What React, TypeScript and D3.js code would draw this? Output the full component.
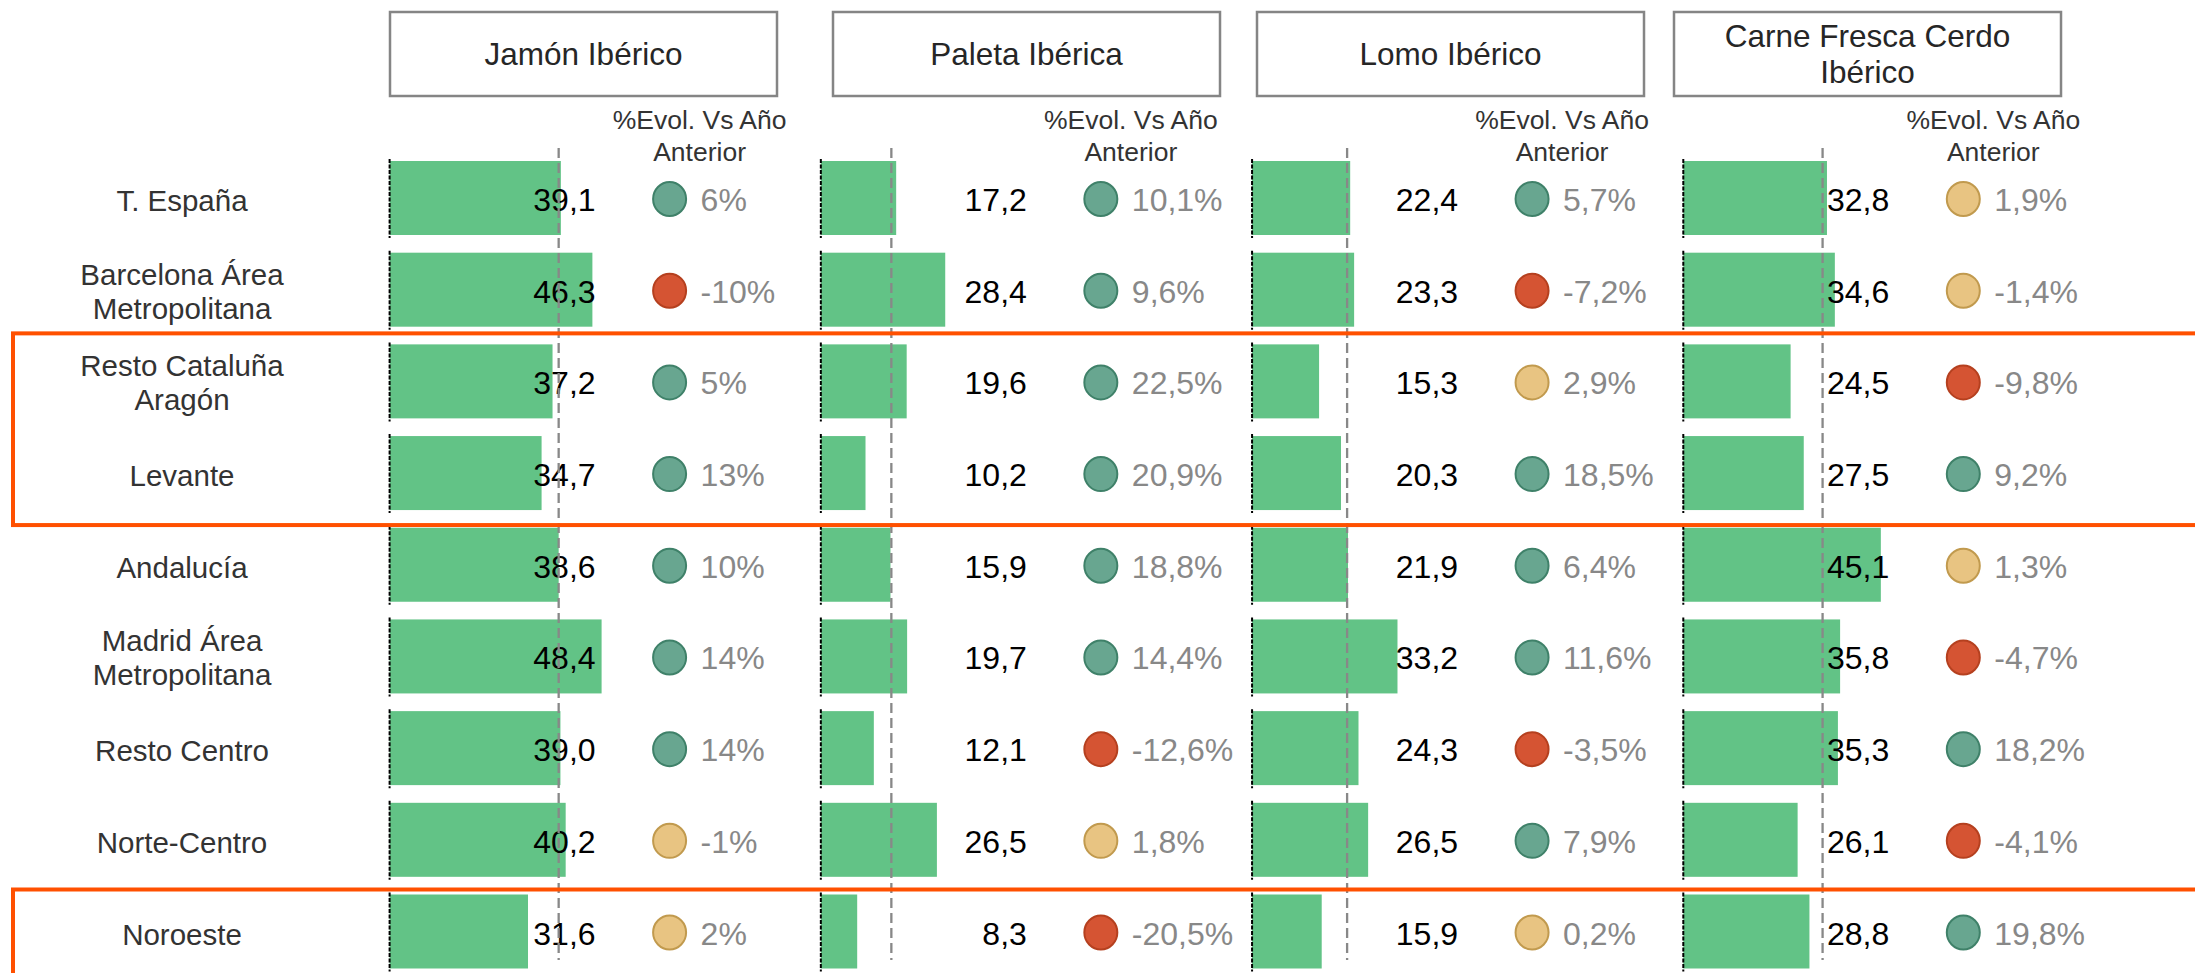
import React from 'react';
import * as d3 from 'd3';

// ---------- data ----------
const regions = [
  'T. España',
  'Barcelona Área\nMetropolitana',
  'Resto Cataluña\nAragón',
  'Levante',
  'Andalucía',
  'Madrid Área\nMetropolitana',
  'Resto Centro',
  'Norte-Centro',
  'Noroeste',
];

const products = ['Jamón Ibérico', 'Paleta Ibérica', 'Lomo Ibérico', 'Carne Fresca Cerdo\nIbérico'];

const jamonValues = [39.1, 46.3, 37.2, 34.7, 38.6, 48.4, 39.0, 40.2, 31.6];
const paletaValues = [17.2, 28.4, 19.6, 10.2, 15.9, 19.7, 12.1, 26.5, 8.3];
const lomoValues = [22.4, 23.3, 15.3, 20.3, 21.9, 33.2, 24.3, 26.5, 15.9];
const carneValues = [32.8, 34.6, 24.5, 27.5, 45.1, 35.8, 35.3, 26.1, 28.8];

const jamonEvol = [6, -10, 5, 13, 10, 14, 14, -1, 2];
const paletaEvol = [10.1, 9.6, 22.5, 20.9, 18.8, 14.4, -12.6, 1.8, -20.5];
const lomoEvol = [5.7, -7.2, 2.9, 18.5, 6.4, 11.6, -3.5, 7.9, 0.2];
const carneEvol = [1.9, -1.4, -9.8, 9.2, 1.3, -4.7, 18.2, -4.1, 19.8];

// status of the traffic-light dot: g = green, r = red, y = amber
const jamonStatus = ['g', 'r', 'g', 'g', 'g', 'g', 'g', 'y', 'y'];
const paletaStatus = ['g', 'g', 'g', 'g', 'g', 'g', 'r', 'y', 'r'];
const lomoStatus = ['g', 'r', 'y', 'g', 'g', 'g', 'r', 'g', 'y'];
const carneStatus = ['y', 'y', 'r', 'g', 'y', 'r', 'g', 'r', 'g'];

// dashed reference line per panel
const referenceValues = [38.6, 16.1, 21.7, 31.8];
const evolDecimals = [0, 1, 1, 1];

// highlighted groups of regions (orange frames)
const highlightGroups = [
  ['Resto Cataluña\nAragón', 'Levante'],
  ['Noroeste'],
];

const panelValues = [jamonValues, paletaValues, lomoValues, carneValues];
const panelEvol = [jamonEvol, paletaEvol, lomoEvol, carneEvol];
const panelStatus = [jamonStatus, paletaStatus, lomoStatus, carneStatus];

// ---------- style / layout ----------
const W = 2195;
const H = 973;
const FONT = '"Liberation Sans", Arial, Helvetica, sans-serif';
const BAR_COLOR = '#62C386';
const STATUS_FILL: Record<string, string> = { g: '#68A690', r: '#D55433', y: '#E8C482' };
const STATUS_STROKE: Record<string, string> = { g: '#3F8169', r: '#B5401F', y: '#C19A4E' };
const HEADER_LEFT = [390, 833, 1257, 1674];
const HEADER_W = 387;
const BAR_H = 74;
const FRAME_PADS = [
  [48, 52],
  [42, 80],
];

const fmtValue = (v: number) => v.toFixed(1).replace('.', ',');
const fmtEvol = (v: number, d: number) => v.toFixed(d).replace('.', ',') + '%';

export default function App() {
  const yCenter = d3.scalePoint<string>().domain(regions).range([198, 931.5]);
  const panelX = d3.scalePoint<string>().domain(products).range([389.6, 1683.3]);
  const x = d3.scaleLinear().domain([0, 50]).range([0, 219]);

  const rowLabel = (r: string) => {
    const lines = r.split('\n');
    const c = yCenter(r)!;
    if (lines.length === 1) {
      return (
        <text key={r} x={182} y={c + 13} textAnchor="middle" fontSize={29.5} fill="#333">
          {r}
        </text>
      );
    }
    return (
      <text key={r} x={182} y={c - 5} textAnchor="middle" fontSize={29.5} fill="#333">
        {lines.map((l, i) => (
          <tspan key={i} x={182} dy={i === 0 ? 0 : 34}>
            {l}
          </tspan>
        ))}
      </text>
    );
  };

  return (
    <svg
      width={W}
      height={H}
      style={{ position: 'absolute', left: 0, top: 0, background: '#fff' }}
      fontFamily={FONT}
    >
      <rect x={0} y={0} width={W} height={H} fill="#fff" />
      {regions.map(rowLabel)}

      {products.map((p, pi) => {
        const x0 = panelX(p)!;
        const vals = panelValues[pi];
        const evs = panelEvol[pi];
        const sts = panelStatus[pi];
        const refX = x0 + x(referenceValues[pi]);
        const hl = p.split('\n');
        const hx = HEADER_LEFT[pi];
        return (
          <g key={p}>
            {/* header box */}
            <rect x={hx} y={12} width={HEADER_W} height={84} fill="#fff" stroke="#858585" strokeWidth={2.5} />
            {hl.length === 1 ? (
              <text x={hx + HEADER_W / 2} y={65} textAnchor="middle" fontSize={31.5} fill="#262626">
                {p}
              </text>
            ) : (
              <text x={hx + HEADER_W / 2} y={47} textAnchor="middle" fontSize={31.5} fill="#262626">
                {hl.map((l, i) => (
                  <tspan key={i} x={hx + HEADER_W / 2} dy={i === 0 ? 0 : 36}>
                    {l}
                  </tspan>
                ))}
              </text>
            )}
            {/* evol header */}
            <text x={x0 + 310} y={129} textAnchor="middle" fontSize={26.5} fill="#333">
              %Evol. Vs Año
            </text>
            <text x={x0 + 310} y={161} textAnchor="middle" fontSize={26.5} fill="#333">
              Anterior
            </text>

            {regions.map((r, i) => {
              const c = yCenter(r)!;
              return (
                <g key={r}>
                  <rect x={x0} y={c - BAR_H / 2} width={x(vals[i])} height={BAR_H} fill={BAR_COLOR} />
                  <text x={x0 + 206} y={c + 13} textAnchor="end" fontSize={32} fill="#000">
                    {fmtValue(vals[i])}
                  </text>
                  <line
                    x1={x0}
                    x2={x0}
                    y1={c - 39}
                    y2={c + 40}
                    stroke="#000"
                    strokeWidth={2}
                    strokeDasharray="4,1.5"
                  />
                  <ellipse
                    cx={x0 + 280}
                    cy={c + 1}
                    rx={16.5}
                    ry={17}
                    fill={STATUS_FILL[sts[i]]}
                    stroke={STATUS_STROKE[sts[i]]}
                    strokeWidth={2}
                  />
                  <text x={x0 + 311} y={c + 13} textAnchor="start" fontSize={32} fill="#888">
                    {fmtEvol(evs[i], evolDecimals[pi])}
                  </text>
                </g>
              );
            })}
            {/* reference dashed line */}
            <line
              x1={refX}
              x2={refX}
              y1={148}
              y2={960}
              stroke="#888"
              strokeWidth={2.3}
              strokeDasharray="10,5"
            />
          </g>
        );
      })}

      {highlightGroups.map((g, gi) => {
        const top = yCenter(g[0])! - FRAME_PADS[gi][0];
        const bottom = yCenter(g[g.length - 1])! + FRAME_PADS[gi][1];
        return (
          <rect
            key={gi}
            x={13}
            y={top}
            width={W + 20}
            height={bottom - top}
            fill="none"
            stroke="#FF5000"
            strokeWidth={4}
          />
        );
      })}
    </svg>
  );
}
